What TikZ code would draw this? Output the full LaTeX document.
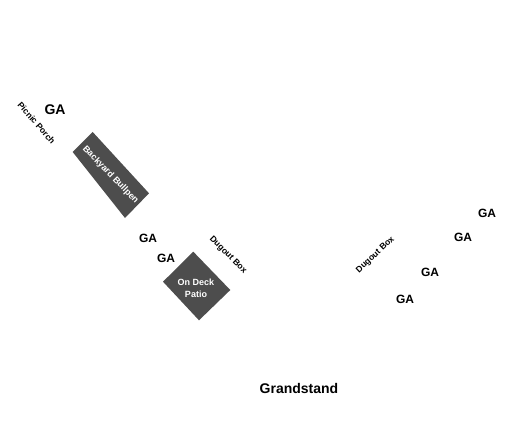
\documentclass[tikz,border=0pt]{standalone}
\usepackage{fontspec}
\setmainfont{Liberation Sans}
\usepackage{xcolor}
\definecolor{patio}{HTML}{4D4D4D}
\begin{document}
\begin{tikzpicture}[
  x=1pt,y=-1pt,
  section/.style={fill=patio,draw=none},
  ga/.style={font=\bfseries\fontsize{12}{14}\selectfont,inner sep=0pt},
  seat/.style={font=\bfseries\fontsize{8.6}{11}\selectfont,inner sep=0pt},
  inside/.style={font=\bfseries\fontsize{9}{11.5}\selectfont,inner sep=0pt,text=white,align=center}
]
  \useasboundingbox (0,0) rectangle (525,425);
  \fill[section] (92.7,132) -- (149,193.3) -- (125,218) -- (72.7,152) -- cycle;
  \fill[section] (193.3,251.7) -- (230.3,290) -- (199,320.3) -- (163,281.7) -- cycle;
  \node[seat,rotate=-49] (porch) at (36.5,123) {Picnic Porch};
  \node[ga,font=\bfseries\fontsize{14}{16}\selectfont] (ga1) at (55,109.5) {GA};
  \node[inside,rotate=-46] (bullpen) at (110.5,175) {Backyard Bullpen};
  \node[ga] (ga2) at (148,238.3) {GA};
  \node[ga] (ga3) at (166,258.3) {GA};
  \node[seat,rotate=-45] (dugl) at (228,255) {Dugout Box};
  \node[inside] (deck) at (196,288.5) {On Deck\\Patio};
  \node[seat,rotate=43] (dugr) at (375.5,255) {Dugout Box};
  \node[ga] (ga4) at (487,213.3) {GA};
  \node[ga] (ga5) at (463,237) {GA};
  \node[ga] (ga6) at (430,272) {GA};
  \node[ga] (ga7) at (405,299) {GA};
  \node[ga,font=\bfseries\fontsize{14}{16}\selectfont] (stand) at (299,388) {Grandstand};
\end{tikzpicture}
\end{document}
